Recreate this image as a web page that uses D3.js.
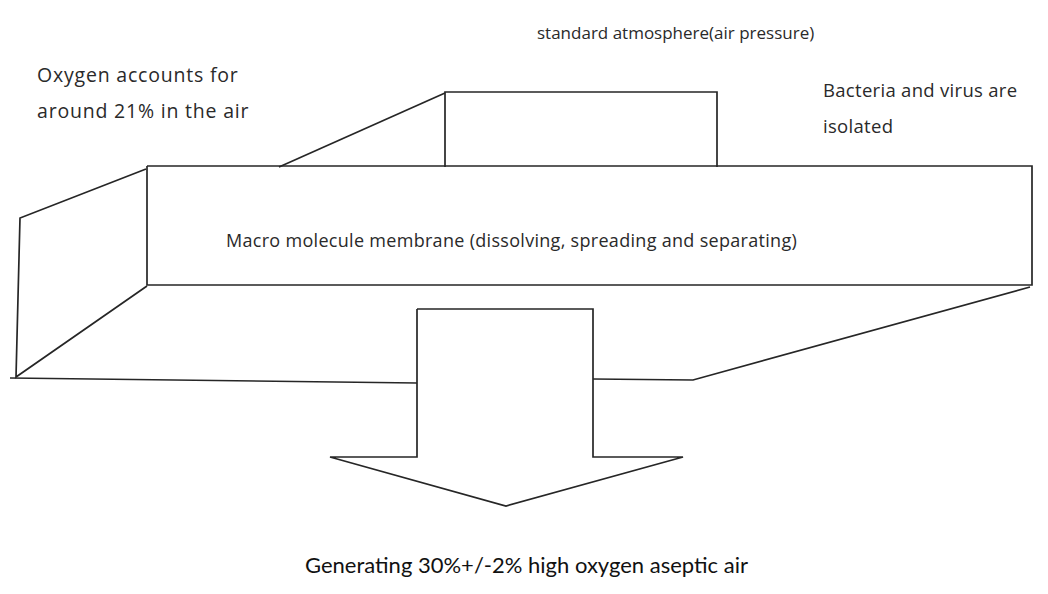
<!DOCTYPE html>
<html>
<head>
<meta charset="utf-8">
<script src="https://cdn.jsdelivr.net/npm/d3@7"></script>
<style>
  body { margin: 0; background: #fff; }
  svg { display: block; }
</style>
</head>
<body>
<figure id="diagram" style="margin:0"></figure>
<script>
// shapes of the sketch, in reference units (0..1048 x 0..594)
const membraneBox = [[147, 166], [1032, 166], [1032, 285], [147, 285], [147, 166]];
const topBox = [[445, 167], [445, 92], [717, 92], [717, 167]];
const topSlant = [[279, 167], [445, 93]];
const leftPanel = [[146, 169], [20, 218], [16, 377], [147, 286]];
const baseLeft = [[10, 378], [417, 383]];
const baseRight = [[593, 379], [693, 380], [1030, 287]];
const arrow = [[417, 309], [593, 309], [593, 457], [683, 457], [506, 506], [330, 457], [417, 457], [417, 309]];

const labels = ["standard atmosphere(air pressure)", "Oxygen accounts for", "around 21% in the air",
  "Bacteria and virus are", "isolated", "Macro molecule membrane (dissolving, spreading and separating)"];
const footer = "Generating 30%+/-2% high oxygen aseptic air";

// layout: [left, baseline, font size, letter spacing] of each label
const labelStyle = [[537, 39, 17, 0], [37, 82, 19.5, 0.8], [37, 118, 19.5, 0.8],
  [823, 97, 18.5, 0.3], [823, 133, 18.5, 0.3], [226, 247, 18, 0.3]];

const width = 1048, height = 594;
const x = d3.scaleLinear().domain([0, 1048]).range([0, width]);
const y = d3.scaleLinear().domain([0, 594]).range([0, height]);
const line = d3.line().x(d => x(d[0])).y(d => y(d[1]));

const svg = d3.select('figure#diagram')
  .append('svg')
  .attr('width', width)
  .attr('height', height);

const shapes = [membraneBox, topBox, topSlant, leftPanel, baseLeft, baseRight, arrow];
svg.append('g')
  .attr('class', 'strokes')
  .selectAll('path')
  .data(shapes)
  .enter().append('path')
  .attr('d', line)
  .attr('fill', 'none')
  .attr('stroke', '#262626')
  .attr('stroke-width', 1.7)
  .attr('stroke-linejoin', 'miter');

svg.append('g')
  .attr('class', 'labels')
  .selectAll('text')
  .data(labels)
  .enter().append('text')
  .attr('x', (d, i) => x(labelStyle[i][0]))
  .attr('y', (d, i) => y(labelStyle[i][1]))
  .attr('font-family', "'Open Sans', 'Noto Sans', sans-serif")
  .attr('font-size', (d, i) => labelStyle[i][2])
  .attr('letter-spacing', (d, i) => labelStyle[i][3])
  .attr('fill', '#2a2a2a')
  .text(d => d);

svg.append('text')
  .attr('x', x(305))
  .attr('y', y(573))
  .attr('font-family', "Lato, 'Open Sans', sans-serif")
  .attr('font-size', 22)
  .attr('fill', '#111')
  .text(footer);
</script>
</body>
</html>
